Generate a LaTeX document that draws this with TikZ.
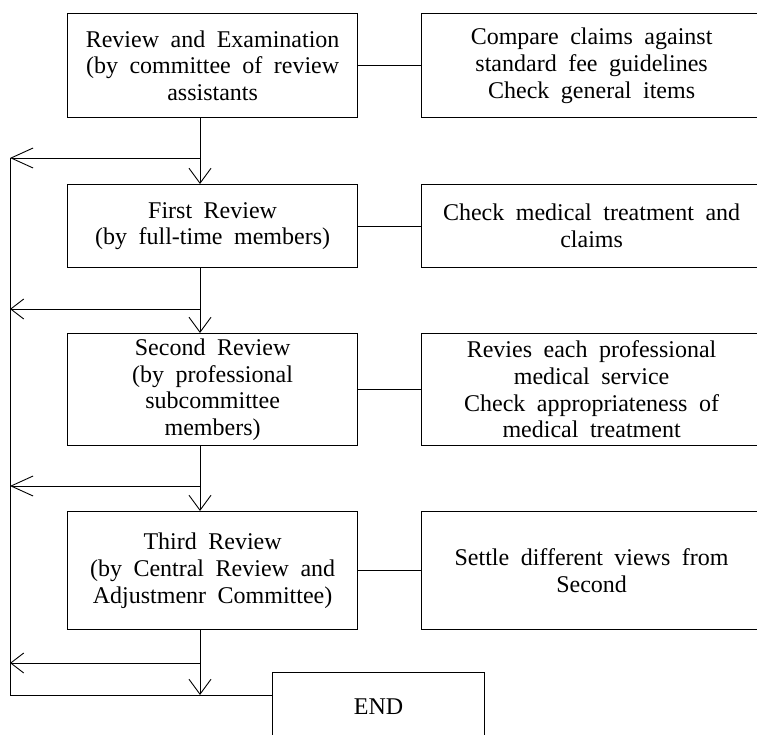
\documentclass[tikz,border=0pt]{standalone}
\usepackage{fontspec}
\setmainfont{Liberation Serif}
\usetikzlibrary{arrows.meta}
\newcommand\myboxfont{\fontsize{24}{26.7}\selectfont\spaceskip 0.48em plus 0pt minus 0pt\relax}
\begin{document}
\begin{tikzpicture}[x=1pt,y=-1pt,
  box/.style={draw, line width=1.2pt, anchor=north west, inner sep=0pt, align=center,
    font=\myboxfont},
  lbox/.style={box, minimum width=290pt},
  rbox/.style={box, minimum width=340pt},
  conn/.style={draw, line width=0.9pt},
  darr/.style={conn, -{Straight Barb[length=15pt, width=22pt, line width=0.9pt]}},
  larrlong/.style={conn, -{Straight Barb[length=22pt, width=20pt, line width=0.9pt]}},
  larrshort/.style={conn, -{Straight Barb[length=13pt, width=20pt, line width=0.9pt]}}]
\useasboundingbox (0,0) rectangle (757,735);
\clip (0,0) rectangle (757,735);

% left boxes
\node[lbox, minimum height=104pt] (b1) at (67,13) {Review and Examination\\(by committee of review\\assistants};
\node[lbox, minimum height=83pt] (b2) at (67,184) {First Review\\(by full-time members)};
\node[lbox, minimum height=112pt] (b3) at (67,333) {Second Review\\(by professional\\subcommittee\\members)};
\node[lbox, minimum height=118pt] (b4) at (67,511) {Third Review\\(by Central Review and\\Adjustmenr Committee)};

% right boxes
\node[rbox, minimum height=104pt] (r1) at (421,13) {Compare claims against\\standard fee guidelines\\Check general items};
\node[rbox, minimum height=83pt] (r2) at (421,184) {Check medical treatment and\\claims};
\node[rbox, minimum height=112pt] (r3) at (421,333) {Revies each professional\\medical service\\Check appropriateness of\\medical treatment};
\node[rbox, minimum height=118pt] (r4) at (421,511) {Settle different views from\\Second};

% end box
\node[box, minimum width=212pt, minimum height=68pt] (e) at (272,672) {END};

% side connectors
\draw[conn] (b1.east) -- (r1.west);
\draw[conn] (b2.east) -- (r2.west);
\draw[conn] (b3.east) -- (r3.west);
\draw[conn] (b4.east) -- (r4.west);

% junctions
\coordinate (j1) at (200,158);
\coordinate (j2) at (200,309);
\coordinate (j3) at (200,486);
\coordinate (j4) at (200,663);
\coordinate (l1) at (10,158);
\coordinate (l2) at (10,309);
\coordinate (l3) at (10,486);
\coordinate (l4) at (10,663);
\coordinate (lb) at (10,695);
\coordinate (jb) at (200,695);

% down flow
\draw[conn] (b1.south -| j1) -- (j1);
\draw[darr] (j1) -- (b2.north -| j1);
\draw[conn] (b2.south -| j2) -- (j2);
\draw[darr] (j2) -- (b3.north -| j2);
\draw[conn] (b3.south -| j3) -- (j3);
\draw[darr] (j3) -- (b4.north -| j3);
\draw[conn] (b4.south -| j4) -- (j4);
\draw[darr] (j4) -- (jb);

% returns
\draw[larrlong] (j1) -- (l1);
\draw[larrshort] (j2) -- (l2);
\draw[larrlong] (j3) -- (l3);
\draw[larrshort] (j4) -- (l4);

% left rail and bottom line
\draw[conn] (l1) -- (lb) -- (lb -| e.west);
\end{tikzpicture}
\end{document}
